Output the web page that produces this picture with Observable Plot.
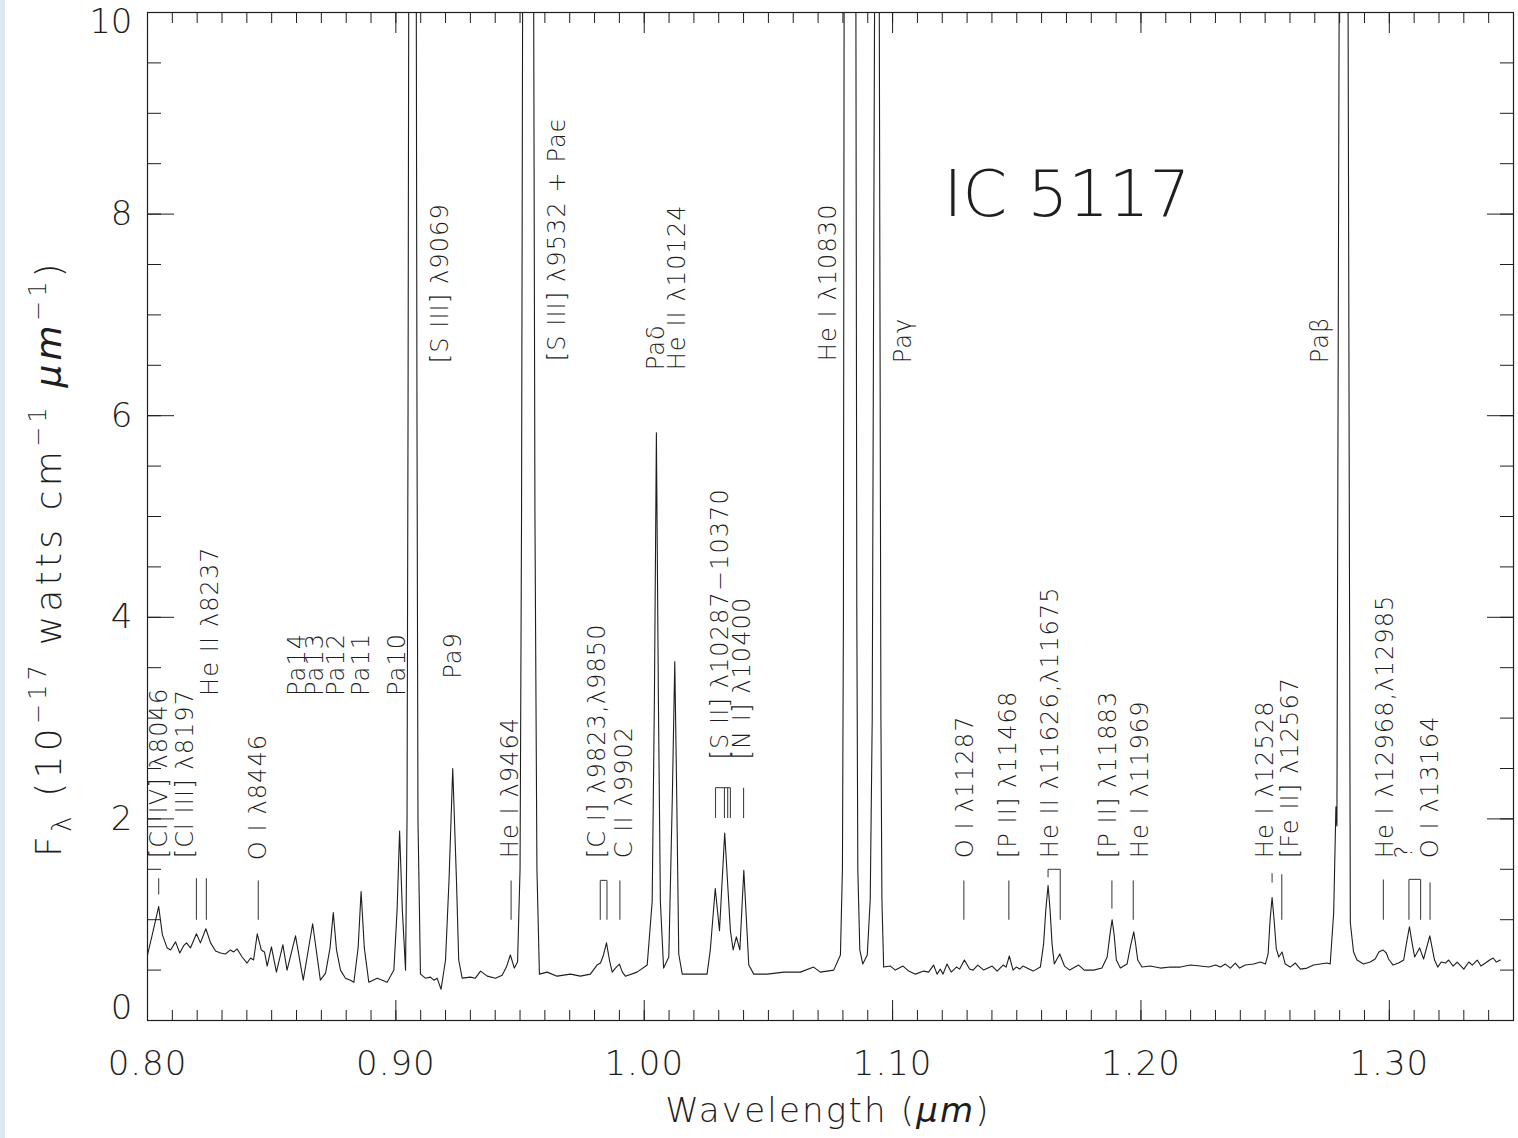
<!DOCTYPE html>
<html><head><meta charset="utf-8">
<script src="https://cdn.jsdelivr.net/npm/d3@7"></script>
<script src="https://cdn.jsdelivr.net/npm/@observablehq/plot@0.6"></script>
<style>
body{margin:0;background:#fff;}
#chart{position:absolute;left:0;top:0;}
#strip{position:absolute;left:0;top:0;width:5px;height:1138px;background:#dfe7f1;}
</style></head><body>
<div id="chart"></div><div id="strip"></div>
<script>
// Spectrum of IC 5117: wavelength (µm) and flux (1e-17 W cm^-1 µm^-1)
const wavelength = [
0.8000,0.8019,0.8045,0.8060,0.8079,0.8093,0.8113,0.8130,0.8145,0.8157,0.8173,0.8197,0.8213,0.8235,0.8254,0.8274,0.8294,0.8314,0.8334,0.8347,
0.8361,0.8381,0.8401,0.8415,0.8427,0.8442,0.8458,0.8471,0.8482,0.8499,0.8519,0.8545,0.8562,0.8596,0.8627,0.8665,0.8696,0.8717,0.8735,0.8748,
0.8761,0.8777,0.8797,0.8817,0.8831,0.8848,0.8860,0.8873,0.8891,0.8925,0.8965,0.8992,0.9005,0.9015,0.9026,0.9039,
0.9045,0.9049,0.9053,0.9067,0.9081,0.9085,0.9089,0.9099,0.9119,0.9139,0.9153,0.9166,0.9182,0.9200,0.9214,0.9229,0.9244,0.9253,0.9267,0.9300,
0.9320,0.9341,0.9368,0.9401,0.9428,0.9445,0.9461,0.9477,0.9490,0.9500,0.9506,0.9512,0.9532,0.9553,0.9560,0.9568,0.9578,0.9609,0.9649,0.9703,
0.9743,0.9783,0.9810,0.9824,0.9836,0.9848,0.9860,0.9871,0.9884,0.9900,0.9912,0.9924,0.9971,1.0012,1.0032,1.0041,1.0049,1.0057,1.0065,1.0078,
1.0099,1.0113,1.0123,1.0131,1.0139,1.0153,1.0199,1.0253,1.0266,1.0286,1.0303,1.0324,1.0347,1.0358,1.0371,1.0385,1.0401,1.0421,1.0441,1.0495,
1.0562,1.0629,1.0682,1.0709,1.0763,1.0790,1.0798,1.0802,1.0805,1.0828,1.0852,1.0856,1.0860,1.0868,1.0880,1.0898,1.0910,1.0918,1.0928,1.0937,
1.0946,1.0953,1.0957,1.0964,1.0991,1.1011,1.1042,1.1065,1.1092,1.1125,1.1145,1.1165,1.1179,1.1192,1.1203,1.1219,1.1236,1.1257,1.1270,1.1289,
1.1310,1.1324,1.1343,1.1367,1.1401,1.1421,1.1445,1.1457,1.1470,1.1485,1.1498,1.1512,1.1525,1.1541,1.1566,1.1595,1.1608,1.1617,1.1626,1.1634,
1.1642,1.1651,1.1673,1.1692,1.1713,1.1749,1.1772,1.1810,1.1843,1.1864,1.1875,1.1884,1.1892,1.1901,1.1917,1.1944,1.1959,1.1971,1.1979,1.1987,
1.2004,1.2038,1.2078,1.2118,1.2159,1.2199,1.2239,1.2273,1.2300,1.2320,1.2340,1.2360,1.2380,1.2397,1.2420,1.2454,1.2481,1.2501,1.2512,1.2520,
1.2528,1.2536,1.2545,1.2555,1.2568,1.2581,1.2601,1.2622,1.2642,1.2669,1.2695,1.2722,1.2749,1.2762,1.2776,1.2785,1.2789,1.2799,1.2817,1.2833,
1.2843,1.2856,1.2870,1.2896,1.2923,1.2943,1.2958,1.2974,1.2988,1.2997,1.3015,1.3037,1.3058,1.3068,1.3081,1.3093,1.3102,1.3122,1.3138,1.3163,
1.3182,1.3195,1.3209,1.3226,1.3239,1.3257,1.3273,1.3300,1.3320,1.3334,1.3354,1.3369,1.3387,1.3404,1.3418,1.3431,1.3447
];
const flux = [
0.65,0.85,1.13,0.85,0.72,0.70,0.78,0.67,0.74,0.77,0.72,0.86,0.77,0.91,0.77,0.69,0.67,0.66,0.70,0.68,
0.71,0.63,0.57,0.62,0.60,0.86,0.70,0.68,0.54,0.73,0.48,0.75,0.50,0.84,0.40,0.96,0.40,0.47,0.72,1.07,
0.70,0.50,0.42,0.40,0.38,0.72,1.28,0.72,0.38,0.42,0.38,0.50,1.10,1.88,1.10,0.50,
2.0,6.0,12.0,40.0,12.0,6.0,2.0,0.46,0.42,0.43,0.40,0.42,0.31,0.60,1.39,2.50,1.39,0.60,0.42,0.43,
0.42,0.49,0.44,0.42,0.45,0.53,0.65,0.52,0.58,1.5,5.0,12.0,80.0,12.0,5.0,1.5,0.46,0.48,0.44,0.46,
0.44,0.46,0.55,0.57,0.65,0.77,0.60,0.48,0.52,0.56,0.48,0.44,0.48,0.55,1.18,3.2,5.83,3.2,1.18,0.52,
0.63,2.2,3.56,2.2,0.66,0.46,0.46,0.46,0.70,1.31,0.89,1.86,0.89,0.70,0.83,0.70,1.49,0.55,0.46,0.46,
0.48,0.48,0.53,0.48,0.50,0.65,1.5,4.0,10.5,60.0,10.5,4.0,1.5,0.70,0.56,0.65,1.2,3.0,10.5,25.0,
10.5,3.0,1.2,0.53,0.54,0.50,0.54,0.49,0.46,0.49,0.48,0.55,0.46,0.51,0.46,0.56,0.48,0.53,0.51,0.60,
0.51,0.50,0.55,0.50,0.54,0.49,0.55,0.53,0.64,0.50,0.53,0.51,0.54,0.52,0.49,0.53,0.76,1.10,1.34,1.10,
0.76,0.56,0.66,0.54,0.50,0.55,0.50,0.50,0.52,0.63,0.85,1.00,0.85,0.60,0.52,0.56,0.75,0.88,0.75,0.60,
0.53,0.54,0.52,0.53,0.53,0.55,0.54,0.53,0.55,0.53,0.56,0.52,0.57,0.52,0.55,0.56,0.58,0.56,0.66,1.00,
1.22,1.00,0.71,0.63,0.68,0.56,0.53,0.57,0.51,0.52,0.55,0.56,0.57,0.56,1.07,2.12,1.93,11.0,60.0,11.0,
0.97,0.68,0.60,0.56,0.58,0.61,0.68,0.70,0.67,0.61,0.55,0.57,0.60,0.75,0.93,0.75,0.63,0.72,0.61,0.84,
0.60,0.53,0.58,0.57,0.60,0.54,0.58,0.51,0.58,0.55,0.60,0.54,0.57,0.60,0.62,0.58,0.60
];

// Line identifications (label text, wavelength of label column, flux level where the label starts)
const labelText = [
"[Cl IV] λ8046","[Cl III] λ8197","He II λ8237","O I λ8446",
"Pa14","Pa13","Pa12","Pa11","Pa10","[S III] λ9069","Pa9","He I λ9464",
"[S III] λ9532 + Paϵ","[C I] λ9823,λ9850","C II λ9902","Paδ","He II λ10124",
"[S II] λ10287−10370","[N I] λ10400","He I λ10830","Paγ",
"O I λ11287","[P II] λ11468","He II λ11626,λ11675","[P II] λ11883","He I λ11969",
"He I λ12528","[Fe II] λ12567","Paβ","He I λ12968,λ12985","?","O I λ13164"
];
const labelWave = [
0.8048,0.8153,0.8254,0.8447,
0.8604,0.8676,0.8761,0.8862,0.9006,0.9180,0.9232,0.9461,
0.9651,0.9812,0.9920,1.0049,1.0134,
1.0307,1.0395,1.0742,1.1044,
1.1293,1.1466,1.1635,1.1869,1.1998,
1.2501,1.2602,1.2722,1.2984,1.3060,1.3165
];
const labelFlux = [
1.61,1.61,3.22,1.59,
3.22,3.22,3.22,3.22,3.22,6.52,3.39,1.61,
6.54,1.61,1.61,6.45,6.45,
2.59,2.59,6.54,6.52,
1.61,1.61,1.61,1.61,1.61,
1.61,1.61,6.52,1.61,1.61,1.61
];

// Identification markers: segments in (wavelength, flux)
const markerW1 = [0.8045,0.8197,0.8237,0.8446,0.9464,0.9823,0.9850,0.9823,0.9902,
  1.0287,1.0323,1.0336,1.0347,1.0287,1.0400,
  1.1287,1.1468,1.1626,1.1675,1.1626,1.1883,1.1969,1.2528,1.2567,1.2976,1.3079,1.3126,1.3079,1.3164];
const markerF1 = [1.25,1.00,1.00,1.00,1.00,1.00,1.00,1.39,1.00,
  2.01,2.01,2.01,2.01,2.31,2.01,
  1.00,1.00,1.42,1.00,1.50,1.11,1.00,1.37,1.00,1.00,1.00,1.00,1.40,1.00];
const markerW2 = [0.8045,0.8197,0.8237,0.8446,0.9464,0.9823,0.9850,0.9850,0.9902,
  1.0287,1.0323,1.0336,1.0347,1.0347,1.0400,
  1.1287,1.1468,1.1626,1.1675,1.1675,1.1883,1.1969,1.2528,1.2567,1.2976,1.3079,1.3126,1.3126,1.3164];
const markerF2 = [1.41,1.41,1.41,1.39,1.39,1.39,1.39,1.39,1.39,
  2.31,2.31,2.31,2.31,2.31,2.31,
  1.39,1.39,1.50,1.50,1.50,1.39,1.39,1.46,1.45,1.40,1.40,1.40,1.40,1.37];

const xMajorTicks = [0.80,0.90,1.00,1.10,1.20,1.30];
const yMajorTicks = [0,2,4,6,8,10];
const title = "IC 5117";

const spectrum = wavelength.map((w, i) => ({w, f: flux[i]}));
const labels = labelText.map((t, i) => ({t, w: labelWave[i], f: labelFlux[i]}));
const markers = markerW1.map((w, i) => ({w1: w, f1: markerF1[i], w2: markerW2[i], f2: markerF2[i]}));
const xMinor = d3.range(80, 136).map(i => i / 100);
const yMinor = d3.range(0, 21).map(i => i / 2);

const FONT = "DejaVu Sans, sans-serif";
const INK = "#1e1e1e";
const W = 300;

const plot = Plot.plot({
  width: 1518, height: 1138,
  marginLeft: 147, marginRight: 5, marginTop: 12, marginBottom: 118,
  style: {fontFamily: FONT, background: "transparent", color: INK, fontWeight: W},
  x: {domain: [0.80, 1.35]},
  y: {domain: [0, 10]},
  marks: [
    Plot.frame({stroke: INK, strokeWidth: 1.2}),
    Plot.axisX(xMinor, {anchor: "bottom", tickSize: -10, tickFormat: () => "", stroke: INK}),
    Plot.axisX(xMajorTicks, {anchor: "bottom", tickSize: -20, tickFormat: () => "", stroke: INK}),
    Plot.axisX(xMinor, {anchor: "top", tickSize: -10, tickFormat: () => "", stroke: INK}),
    Plot.axisX(xMajorTicks, {anchor: "top", tickSize: -20, tickFormat: () => "", stroke: INK}),
    Plot.axisX(xMajorTicks, {anchor: "bottom", tickSize: 0, tickPadding: 30, tickFormat: d3.format(".2f"), fontSize: 34, fill: INK}),
    Plot.axisY(yMinor, {anchor: "left", tickSize: -14, tickFormat: () => "", stroke: INK}),
    Plot.axisY(yMajorTicks, {anchor: "left", tickSize: -27, tickFormat: () => "", stroke: INK}),
    Plot.axisY(yMinor, {anchor: "right", tickSize: -14, tickFormat: () => "", stroke: INK}),
    Plot.axisY(yMajorTicks, {anchor: "right", tickSize: -27, tickFormat: () => "", stroke: INK}),
    Plot.axisY([2,4,6,8], {anchor: "left", tickSize: 0, tickPadding: 15, tickFormat: d3.format("d"), fontSize: 34, fill: INK}),
    Plot.axisY([10], {anchor: "left", tickSize: 0, tickPadding: 15, tickFormat: d3.format("d"), fontSize: 34, fill: INK, dy: 10}),
    Plot.axisY([0], {anchor: "left", tickSize: 0, tickPadding: 15, tickFormat: d3.format("d"), fontSize: 34, fill: INK, dy: -12}),
    Plot.line(spectrum, {x: "w", y: "f", stroke: INK, strokeWidth: 1.1, clip: true}),
    Plot.link(markers, {x1: "w1", y1: "f1", x2: "w2", y2: "f2", stroke: "#444", strokeWidth: 1.1}),
    Plot.text(labels, {x: "w", y: "f", text: "t", rotate: -90, textAnchor: "start", lineAnchor: "middle",
      fontSize: 24, fill: INK}),
    Plot.text([title], {frameAnchor: "top-left", dx: 796, dy: 203, lineAnchor: "bottom", textAnchor: "start",
      fontSize: 64, fill: INK})
  ]
});
document.getElementById("chart").appendChild(plot);

const svg = d3.select(plot);
// widen the spacing of the rotated identification labels and tick labels
const labelSet = new Set(labelText);
svg.selectAll("text").filter(function() { return labelSet.has(this.textContent); })
  .style("letter-spacing", "1.1px");
svg.selectAll("text").filter(function() { return /^\d\.\d\d$/.test(this.textContent); })
  .style("letter-spacing", "1px");

// y-axis title with sub/superscripts
const yt = svg.append("text")
  .attr("transform", "translate(61,558) rotate(-90)")
  .attr("text-anchor", "middle").attr("font-family", FONT).attr("font-weight", W)
  .attr("font-size", 36).attr("fill", INK).style("letter-spacing", "4.2px");
yt.append("tspan").text("F");
yt.append("tspan").attr("font-size", 26).attr("dy", 10).text("λ");
yt.append("tspan").attr("dy", -10).text(" (10");
yt.append("tspan").attr("font-size", 24).attr("dy", -15).text("−17");
yt.append("tspan").attr("dy", 15).text(" watts cm");
yt.append("tspan").attr("font-size", 24).attr("dy", -15).text("−1");
yt.append("tspan").attr("dy", 15).text(" ");
yt.append("tspan").attr("font-style", "italic").text("μm");
yt.append("tspan").attr("font-size", 24).attr("dy", -15).text("−1");
yt.append("tspan").attr("dy", 15).text(")");
// x-axis title
const xt = svg.append("text")
  .attr("x", 828).attr("y", 1122)
  .attr("text-anchor", "middle").attr("font-family", FONT).attr("font-weight", W)
  .attr("font-size", 34).attr("fill", INK).style("letter-spacing", "2.2px");
xt.append("tspan").text("Wavelength (");
xt.append("tspan").attr("font-style", "italic").text("μm");
xt.append("tspan").text(")");
</script>
</body></html>
